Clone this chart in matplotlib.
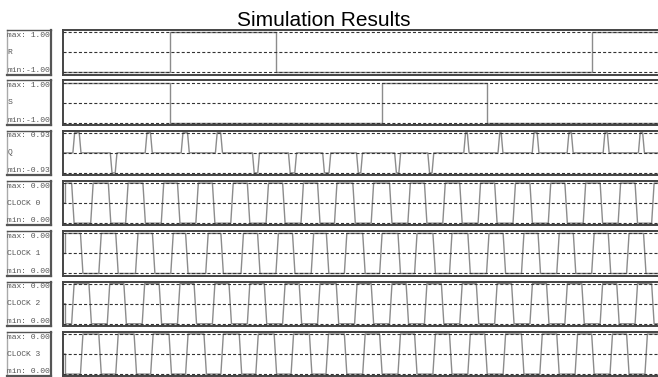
import numpy as np
import matplotlib.pyplot as plt

plt.rcParams["lines.scale_dashes"] = False

# time axis in clock periods
t_end = 16.95

# R and S: step signals (switch times and levels)
r_times = [0.0, 3.04, 6.05, 15.0]
r_levels = [-1.0, 1.0, -1.0, 1.0]
s_times = [0.0, 3.04, 9.03, 12.02]
s_levels = [1.0, -1.0, 1.0, -1.0]

# Q: short pulses around 0
q_amp = 0.93
q_start = [0.28, 1.34, 2.33, 3.35, 4.32, 5.37, 6.39, 7.36, 8.32,
           9.40, 10.34, 11.36, 12.33, 13.30, 14.29, 15.31, 16.31]
q_end = [0.51, 1.53, 2.53, 3.58, 4.52, 5.57, 6.62, 7.59, 8.49,
         9.57, 10.51, 11.51, 12.47, 13.49, 14.46, 15.48, 16.48]
q_sign = [1, -1, 1, 1, 1, -1, -1, -1, -1, -1, -1, 1, 1, 1, 1, 1, 1]

# clocks: first level after start-up and edge times
clock_first = [1, 1, 0, 0]
clock0_edges = [0.28, 0.82, 1.32, 1.81, 2.30, 2.82, 3.28, 3.80, 4.27, 4.79,
                5.26, 5.79, 6.26, 6.78, 7.25, 7.73, 8.25, 8.77, 9.29, 9.81,
                10.28, 10.80, 11.28, 11.80, 12.27, 12.79, 13.27, 13.79, 14.26,
                14.78, 15.26, 15.77, 16.25, 16.72]
clock1_edges = [0.53, 1.05, 1.53, 2.09, 2.57, 3.09, 3.51, 4.08, 4.51, 5.08,
                5.55, 6.07, 6.54, 7.07, 7.50, 8.01, 8.53, 9.01, 9.53, 10.00,
                10.52, 10.99, 11.51, 12.04, 12.51, 13.03, 13.50, 14.03, 14.50,
                15.02, 15.49, 16.01, 16.49]
clock2_edges = [0.28, 0.77, 1.29, 1.76, 2.28, 2.76, 3.28, 3.75, 4.27, 4.74,
                5.26, 5.74, 6.26, 6.73, 7.25, 7.78, 8.30, 8.77, 9.29, 9.76,
                10.28, 10.76, 11.28, 11.75, 12.27, 12.75, 13.27, 13.74, 14.26,
                14.74, 15.26, 15.73, 16.25, 16.72]
clock3_edges = [0.53, 1.05, 1.53, 2.05, 2.52, 3.04, 3.51, 4.03, 4.51, 5.03,
                5.50, 6.02, 6.50, 7.02, 7.49, 8.01, 8.53, 9.01, 9.53, 10.00,
                10.52, 10.99, 11.51, 11.99, 12.51, 13.03, 13.55, 14.03, 14.55,
                15.02, 15.54, 16.01, 16.53]

row_names = ["R", "S", "Q", "CLOCK 0", "CLOCK 1", "CLOCK 2", "CLOCK 3"]
row_max = [1.00, 1.00, 0.93, 0.00, 0.00, 0.00, 0.00]
row_min = [-1.00, -1.00, -0.93, 0.00, 0.00, 0.00, 0.00]


def step_wave(times, levels):
    x = np.repeat(list(times) + [t_end], 2)[1:-1]
    y = np.repeat(levels, 2)
    return x, y


def pulse_wave(starts, ends, signs, amp, rt=0.05):
    x, y = [0.0], [0.0]
    for s, e, sg in zip(starts, ends, signs):
        x += [s, s + rt, e - rt, e]
        y += [0.0, sg * amp, sg * amp, 0.0]
    x.append(t_end)
    y.append(0.0)
    return x, y


def clock_wave(first, edges, rt=0.07):
    x, y = [0.0, 0.07, 0.07], [0.5, 0.5, first]
    lvl = first
    for e in edges:
        x += [e - rt / 2, e + rt / 2]
        y += [lvl, 1 - lvl]
        lvl = 1 - lvl
    x.append(t_end)
    y.append(lvl)
    return x, y


waves = [
    (step_wave(r_times, r_levels), (-1, 1)),
    (step_wave(s_times, s_levels), (-1, 1)),
    (pulse_wave(q_start, q_end, q_sign, q_amp), (-q_amp, q_amp)),
    (clock_wave(clock_first[0], clock0_edges), (0, 1)),
    (clock_wave(clock_first[1], clock1_edges), (0, 1)),
    (clock_wave(clock_first[2], clock2_edges), (0, 1)),
    (clock_wave(clock_first[3], clock3_edges), (0, 1)),
]

W, H = 658, 377
fig = plt.figure(figsize=(W / 100, H / 100), dpi=100)
fig.text(0.492, 1 - 26 / H, "Simulation Results", ha="center", va="baseline",
         fontsize=15, family="Liberation Sans")

row_top = 30
pitch = 50.3
box_h = 44.5
for i, ((x, y), (lo, hi)) in enumerate(waves):
    top = row_top + i * pitch
    bottom = 1 - (top + box_h) / H

    # label box on the left
    lab = fig.add_axes([6.5 / W, bottom, 45 / W, box_h / H])
    lab.set_xticks([])
    lab.set_yticks([])
    for side, sp in lab.spines.items():
        sp.set_color("#555555" if side in ("right", "bottom", "top") else "#aaaaaa")
        sp.set_linewidth(1.6 if side in ("right", "bottom") else 1.0)
    mono = dict(family="Liberation Mono", fontsize=5.8, color="#555555",
                transform=lab.transAxes, ha="left", va="center")
    lab.text(0.02, 0.88, f"max:{row_max[i]:5.2f}", **mono)
    lab.text(0.02, 0.50, row_names[i], **mono)
    lab.text(0.02, 0.10, f"min:{row_min[i]:5.2f}", **mono)

    # waveform box
    ax = fig.add_axes([63 / W, bottom, 598 / W, box_h / H])
    ax.plot(x, y, color="#8c8c8c", lw=1.0)
    for lvl in (lo, (lo + hi) / 2, hi):
        ax.axhline(lvl, color="#333333", lw=0.8, ls=(0, (2.2, 1.5)), zorder=3)
    pad = (hi - lo) * 0.055
    ax.set_ylim(lo - pad, hi + pad)
    ax.set_xlim(0, t_end)
    ax.set_xticks([])
    ax.set_yticks([])
    for sp in ax.spines.values():
        sp.set_color("#444444")
        sp.set_linewidth(1.4)

fig.savefig("out.png", dpi=100, facecolor="white")
